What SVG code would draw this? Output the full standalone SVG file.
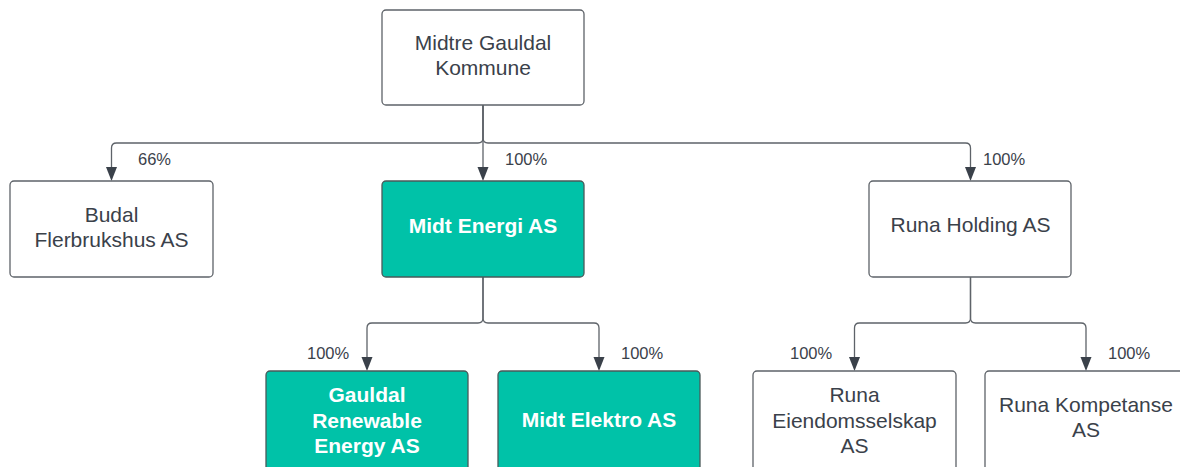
<svg xmlns="http://www.w3.org/2000/svg" width="1180" height="467" viewBox="0 0 1180 467">
<style>
.box{fill:#ffffff;stroke:#5e6369;stroke-width:1.3}
.teal{fill:#00c2a8;stroke:#4a5a5a;stroke-width:1.3}
.t{font-family:"Liberation Sans",Arial,sans-serif;font-size:21px;fill:#3a414a;text-anchor:middle}
.tb{font-family:"Liberation Sans",Arial,sans-serif;font-size:21px;font-weight:bold;fill:#ffffff;text-anchor:middle}
.p{font-family:"Liberation Sans",Arial,sans-serif;font-size:16.5px;fill:#3a414a}
.c{fill:none;stroke:#5e6369;stroke-width:1.3}
</style>
<defs>
<marker id="ah" markerWidth="11" markerHeight="14" refX="5.5" refY="13" orient="auto-start-reverse" markerUnits="userSpaceOnUse" viewBox="0 0 11 14">
<path d="M0,0 L11,0 L5.5,14 Z" fill="#3a414a"/>
</marker>
</defs>
<g id="connectors">
<path class="c" d="M483,105 V138 Q483,143 478,143 H116.5 Q111.5,143 111.5,148 V168"/>
<path d="M106,167 L117,167 L111.5,181 Z" fill="#3a414a"/>
<path class="c" d="M483,105 V168"/>
<path d="M477.5,167 L488.5,167 L483,181 Z" fill="#3a414a"/>
<path class="c" d="M483,105 V138 Q483,143 488,143 H965.5 Q970.5,143 970.5,148 V168"/>
<path d="M965,167 L976,167 L970.5,181 Z" fill="#3a414a"/>
<path class="c" d="M483,277 V318 Q483,323 478,323 H372 Q367,323 367,328 V358"/>
<path d="M361.5,357 L372.5,357 L367,371 Z" fill="#3a414a"/>
<path class="c" d="M483,277 V318 Q483,323 488,323 H594 Q599,323 599,328 V358"/>
<path d="M593.5,357 L604.5,357 L599,371 Z" fill="#3a414a"/>
<path class="c" d="M970.5,277 V318 Q970.5,323 965.5,323 H859.5 Q854.5,323 854.5,328 V358"/>
<path d="M849,357 L860,357 L854.5,371 Z" fill="#3a414a"/>
<path class="c" d="M970.5,277 V318 Q970.5,323 975.5,323 H1081 Q1086,323 1086,328 V358"/>
<path d="M1080.5,357 L1091.5,357 L1086,371 Z" fill="#3a414a"/>
<text class="p" x="138" y="165">66%</text>
<text class="p" x="505" y="165">100%</text>
<text class="p" x="983" y="165">100%</text>
<text class="p" x="307" y="359">100%</text>
<text class="p" x="621" y="359">100%</text>
<text class="p" x="790" y="359">100%</text>
<text class="p" x="1108" y="359">100%</text>
</g>
<g id="midtre-gauldal-kommune">
<rect class="box" x="382" y="10" width="202" height="95" rx="4"/>
<text class="t" x="483" y="50">Midtre Gauldal</text>
<text class="t" x="483" y="75">Kommune</text>
</g>
<g id="budal-flerbrukshus">
<rect class="box" x="10" y="181" width="203" height="96" rx="4"/>
<text class="t" x="111.5" y="221.5">Budal</text>
<text class="t" x="111.5" y="246.5">Flerbrukshus AS</text>
</g>
<g id="midt-energi">
<rect class="teal" x="382" y="181" width="202" height="96" rx="4"/>
<text class="tb" x="483" y="233">Midt Energi AS</text>
</g>
<g id="runa-holding">
<rect class="box" x="869" y="181" width="202" height="96" rx="4"/>
<text class="t" x="970.5" y="232">Runa Holding AS</text>
</g>
<g id="gauldal-renewable">
<rect class="teal" x="266" y="371" width="202" height="110" rx="4"/>
<text class="tb" x="367" y="402">Gauldal</text>
<text class="tb" x="367" y="427.5">Renewable</text>
<text class="tb" x="367" y="453">Energy AS</text>
</g>
<g id="midt-elektro">
<rect class="teal" x="498" y="371" width="202" height="110" rx="4"/>
<text class="tb" x="599" y="427">Midt Elektro AS</text>
</g>
<g id="runa-eiendomsselskap">
<rect class="box" x="753" y="371" width="203" height="110" rx="4"/>
<text class="t" x="854.5" y="402">Runa</text>
<text class="t" x="854.5" y="428">Eiendomsselskap</text>
<text class="t" x="854.5" y="453">AS</text>
</g>
<g id="runa-kompetanse">
<rect class="box" x="985" y="371" width="202" height="110" rx="4"/>
<text class="t" x="1086" y="412">Runa Kompetanse</text>
<text class="t" x="1086" y="437">AS</text>
</g>
</svg>
